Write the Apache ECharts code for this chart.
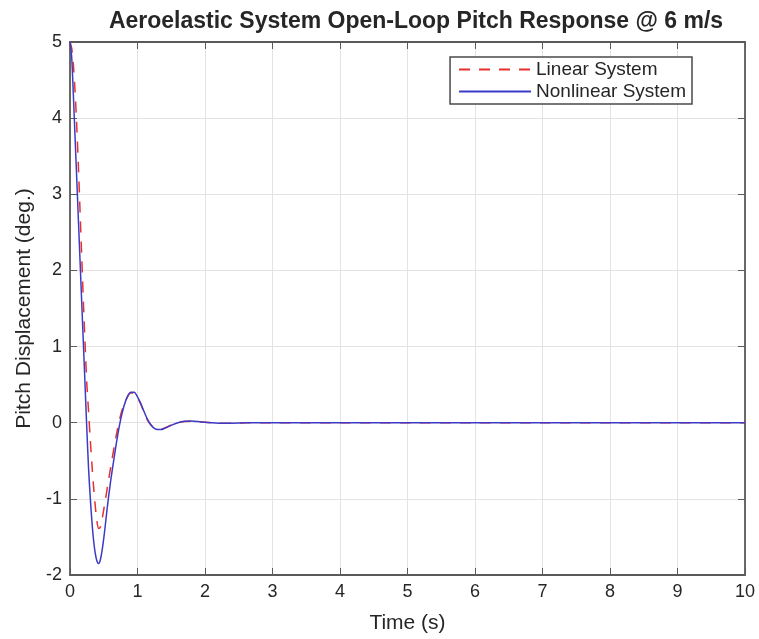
<!DOCTYPE html>
<html><head><meta charset="utf-8">
<script src="https://cdn.jsdelivr.net/npm/echarts@6/dist/echarts.min.js"></script>
<style>html,body{margin:0;padding:0;background:#fff}#c{width:759px;height:639px}</style>
</head><body><div id="c"></div>
<script>
var timeS = [0,0.025,0.05,0.075,0.1,0.125,0.15,0.175,0.2,0.225,0.25,0.275,0.3,0.325,0.35,0.375,0.4,0.425,0.45,0.475,0.5,0.525,0.55,0.6,0.65,0.7,0.75,0.8,0.85,0.9,0.95,1.0,1.05,1.1,1.15,1.2,1.25,1.3,1.35,1.4,1.5,1.6,1.7,1.8,1.9,2.0,2.1,2.2,2.3,2.4,2.6,2.8,3,4,5,6,7,8,9,10];
var linearSys = [5,4.92,4.7,4.35,3.9,3.35,2.75,2.15,1.55,1.0,0.5,0.15,-0.22,-0.55,-0.85,-1.1,-1.3,-1.39,-1.37,-1.27,-1.14,-1.01,-0.87,-0.6,-0.34,-0.1,0.1,0.24,0.34,0.39,0.39,0.33,0.24,0.13,0.03,-0.03,-0.07,-0.085,-0.085,-0.07,-0.03,0,0.016,0.02,0.014,0.005,-0.002,-0.006,-0.007,-0.005,-0.002,0.001,0.001,0,0,0,0,0,0,0];
var nonlinearSys = [5,4.8,4.3,3.75,3.2,2.65,2.1,1.55,1.0,0.45,-0.1,-0.6,-0.98,-1.3,-1.55,-1.72,-1.82,-1.85,-1.8,-1.68,-1.52,-1.33,-1.13,-0.78,-0.48,-0.2,0.04,0.22,0.34,0.4,0.4,0.34,0.25,0.14,0.04,-0.03,-0.075,-0.09,-0.09,-0.075,-0.035,0,0.018,0.022,0.015,0.005,-0.002,-0.007,-0.008,-0.006,-0.002,0.001,0.001,0,0,0,0,0,0,0];
var xTicks = [0,10,1];
var yTicks = [-2,5,1];

function pairs(t, v){ return t.map(function(x,i){ return [x, v[i]]; }); }
var FONT = 'Liberation Sans, Arial, sans-serif';
var TXT = '#262626';
var BOX = '#5a5a5a';
function axisCommon(show){
  return {
    axisLine:{show:true, onZero:false, lineStyle:{color:BOX, width:1.8}},
    axisTick:{show:true, inside:true, length:7, lineStyle:{color:BOX}},
    axisLabel:{show:show, color:TXT, fontFamily:FONT, fontSize:18, margin:8},
    splitLine:{show:show, lineStyle:{color:'#e3e3e3', width:1}}
  };
}
var chart = echarts.init(document.getElementById('c'), null, {renderer:'canvas'});
var xa = Object.assign({type:'value', min:xTicks[0], max:xTicks[1], interval:xTicks[2], position:'bottom',
  name:'Time (s)', nameLocation:'middle', nameGap:38, nameTextStyle:{color:TXT, fontFamily:FONT, fontSize:21}}, axisCommon(true));
var xa2 = Object.assign({type:'value', min:xTicks[0], max:xTicks[1], interval:xTicks[2], position:'top'}, axisCommon(false));
var ya = Object.assign({type:'value', min:yTicks[0], max:yTicks[1], interval:yTicks[2], position:'left',
  name:'Pitch Displacement (deg.)', nameLocation:'middle', nameGap:33, nameTextStyle:{color:TXT, fontFamily:FONT, fontSize:21}}, axisCommon(true));
var ya2 = Object.assign({type:'value', min:yTicks[0], max:yTicks[1], interval:yTicks[2], position:'right'}, axisCommon(false));
chart.setOption({
  backgroundColor:'#fff',
  animation:false,
  title:{text:'Aeroelastic System Open-Loop Pitch Response @ 6 m/s', left:411, textAlign:'center', top:5,
    textStyle:{fontFamily:FONT, fontWeight:'bold', fontSize:23, color:TXT}},
  grid:{left:70, right:14, top:42, bottom:64, show:true, backgroundColor:'#fff', borderWidth:0, containLabel:false, outerBoundsMode:'none'},
  legend:{right:67, top:57, orient:'vertical', itemWidth:72, itemHeight:10, itemGap:3,
    padding:[3,6,3,8], borderColor:'#4a4a4a', borderWidth:1.5, backgroundColor:'#fff',
    itemStyle:{opacity:0},
    textStyle:{fontFamily:FONT, fontSize:19, color:TXT},
    data:['Linear System','Nonlinear System']},
  xAxis:[xa, xa2],
  yAxis:[ya, ya2],
  series:[
    {name:'Linear System', type:'line', xAxisIndex:0, yAxisIndex:0, data:pairs(timeS, linearSys), symbol:'none', smooth:0.3,
      lineStyle:{color:'#e8302c', width:1.5, type:[11,9]}, itemStyle:{color:'#e8302c'}},
    {name:'Nonlinear System', type:'line', xAxisIndex:0, yAxisIndex:0, data:pairs(timeS, nonlinearSys), symbol:'none', smooth:0.3,
      lineStyle:{color:'#3b3bc8', width:1.5}, itemStyle:{color:'#3b3bc8'}}
  ]
});
</script></body></html>
